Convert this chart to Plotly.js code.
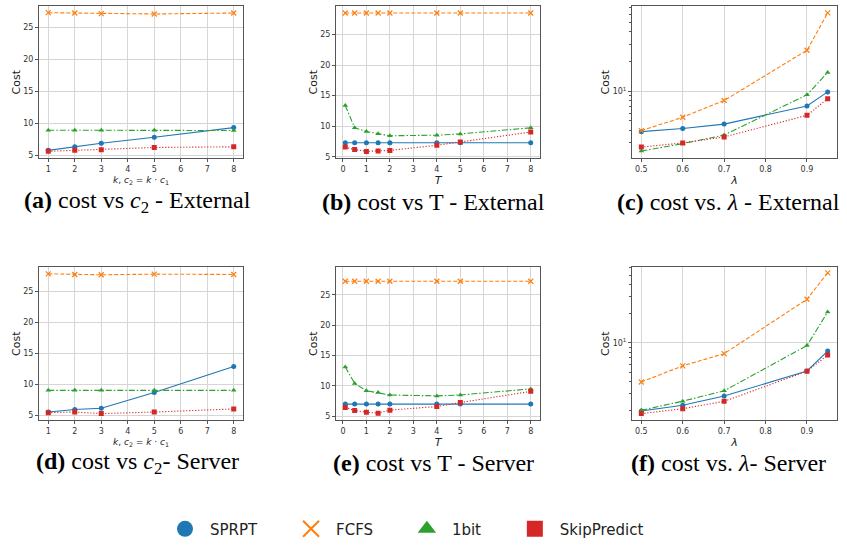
<!DOCTYPE html>
<html>
<head>
<meta charset="utf-8">
<script src="https://cdn.plot.ly/plotly-3.0.1.min.js"></script>
<style>html,body{margin:0;padding:0;background:#fff;}#chart{width:847px;height:546px;}</style>
</head>
<body>
<div id="chart"></div>
<script>
// ---- data ----
const seriesNames = ["SPRPT", "FCFS", "1bit", "SkipPredict"];

const xK = [1, 2, 3, 5, 8];
const xT = [0.1, 0.5, 1, 1.5, 2, 4, 5, 8];
const xLambda = [0.5, 0.6, 0.7, 0.9, 0.95];

// (a) cost vs c2 - External
const aSPRPT = [5.75, 6.3, 6.85, 7.8, 9.3];
const aFCFS = [27.25, 27.2, 27.1, 27.05, 27.2];
const a1bit = [8.9, 8.9, 8.9, 8.9, 8.85];
const aSkip = [5.6, 5.75, 5.85, 6.2, 6.3];

// (b) cost vs T - External
const bSPRPT = [7.3, 7.3, 7.3, 7.3, 7.3, 7.3, 7.3, 7.3];
const bFCFS = [28.5, 28.5, 28.5, 28.5, 28.5, 28.5, 28.5, 28.5];
const b1bit = [13.4, 9.75, 9.15, 8.8, 8.45, 8.55, 8.75, 9.75];
const bSkip = [6.6, 6.2, 5.9, 5.95, 6.05, 6.9, 7.45, 9.05];

// (c) cost vs lambda - External (log)
const cSPRPT = [3.9, 4.2, 4.65, 7.1, 9.85];
const cFCFS = [4.0, 5.45, 8.05, 26.0, 62.0];
const c1bit = [2.48, 2.95, 3.6, 9.2, 15.5];
const cSkip = [2.72, 3.0, 3.45, 5.7, 8.4];

// (d) cost vs c2 - Server
const dSPRPT = [5.55, 5.95, 6.15, 8.7, 12.9];
const dFCFS = [27.85, 27.75, 27.7, 27.8, 27.75];
const d1bit = [9.05, 9.05, 9.05, 9.05, 9.05];
const dSkip = [5.45, 5.55, 5.3, 5.55, 6.05];

// (e) cost vs T - Server
const eSPRPT = [7.0, 7.0, 7.0, 7.0, 7.0, 7.0, 7.0, 7.0];
const eFCFS = [27.25, 27.25, 27.25, 27.25, 27.25, 27.25, 27.25, 27.25];
const e1bit = [13.1, 10.4, 9.2, 8.9, 8.5, 8.35, 8.5, 9.5];
const eSkip = [6.45, 5.95, 5.65, 5.5, 6.0, 6.6, 7.25, 9.1];

// (f) cost vs lambda - Server (log)
const fSPRPT = [1.98, 2.27, 2.83, 5.13, 8.25];
const fFCFS = [3.95, 5.8, 7.75, 28.3, 53.0];
const f1bit = [2.01, 2.5, 3.2, 9.4, 20.9];
const fSkip = [1.86, 2.09, 2.49, 5.1, 7.5];

const captions = [
  "<b>(a)</b> cost vs <i>c</i><sub>2</sub> - External",
  "<b>(b)</b> cost vs T - External",
  "<b>(c)</b> cost vs. <i>λ</i> - External",
  "<b>(d)</b> cost vs <i>c</i><sub>2</sub>- Server",
  "<b>(e)</b> cost vs T - Server",
  "<b>(f)</b> cost vs. <i>λ</i>- Server"
];
const logMajorTicks = [10];
const logMajorText = ["10<sup>1</sup>"];
const logMinorTicks = [2, 3, 4, 5, 6, 7, 8, 9, 20, 30, 40, 50, 60, 70, 80, 90];

// ---- styles ----
const colors = ["#1f77b4", "#ff7f0e", "#2ca02c", "#d62728"];
const dashes = ["solid", "4px,2px", "6px,2px,1.5px,2px", "1.2px,1.8px"];
const symbols = ["circle", "x-thin-open", "triangle-up", "square"];
const msizes = [5, 5, 5, 5];
const legendPad = [5, 5, 5, 0]; // non-breaking spaces after each legend label

const panels = [
  {x: xK, ys: [aSPRPT, aFCFS, a1bit, aSkip]},
  {x: xT, ys: [bSPRPT, bFCFS, b1bit, bSkip]},
  {x: xLambda, ys: [cSPRPT, cFCFS, c1bit, cSkip]},
  {x: xK, ys: [dSPRPT, dFCFS, d1bit, dSkip]},
  {x: xT, ys: [eSPRPT, eFCFS, e1bit, eSkip]},
  {x: xLambda, ys: [fSPRPT, fFCFS, f1bit, fSkip]}
];

const W = 847, H = 546;
const colPx = [[39, 243], [336, 540], [632, 837]];
const rowPx = [[6, 159], [268, 422]];
const capX = [137, 433, 728];
const capY = [203, 465];

const traces = [];
panels.forEach((p, i) => {
  const ax = i === 0 ? "" : String(i + 1);
  p.ys.forEach((y, s) => {
    traces.push({
      x: p.x, y: y, xaxis: "x" + ax, yaxis: "y" + ax,
      type: "scatter", mode: "lines+markers", showlegend: false,
      name: seriesNames[s],
      line: {color: colors[s], width: 1.1, dash: dashes[s]},
      marker: {color: colors[s], symbol: symbols[s], size: msizes[s],
               line: {color: colors[s], width: s === 1 ? 1.2 : 0}}
    });
  });
});
// legend-only entries
seriesNames.forEach((n, s) => {
  traces.push({
    x: [null], y: [null], xaxis: "x", yaxis: "y", type: "scatter", mode: "markers",
    name: n + "\u00a0".repeat(legendPad[s]), showlegend: true,
    marker: {color: colors[s], symbol: symbols[s], size: 16,
             line: {color: colors[s], width: s === 1 ? 2 : 0}}
  });
});

const tickFont = {family: "DejaVu Sans", size: 8, color: "#333"};
const layout = {
  width: W, height: H,
  margin: {l: 0, r: 0, t: 0, b: 0},
  paper_bgcolor: "#fff", plot_bgcolor: "#fff",
  showlegend: true,
  legend: {orientation: "h", x: 160 / W, xanchor: "left", y: 1 - 531 / H, yanchor: "middle",
           font: {family: "DejaVu Sans", size: 15, color: "#222"}, itemwidth: 40,
           traceorder: "normal"},
  annotations: []
};

const xRanges = [[0.65, 8.35], [-0.295, 8.395], [0.4775, 0.9725], [0.65, 8.35], [-0.295, 8.395], [0.4775, 0.9725]];
const yRanges = [[4.49, 28.3], [4.75, 29.65], [Math.log10(2.09), Math.log10(72.9)],
                 [4.19, 28.95], [4.3, 29.6], [Math.log10(1.58), Math.log10(61)]];
const xTitles = ["<i>k</i>, <i>c</i><sub>2</sub> = <i>k</i> · <i>c</i><sub>1</sub>", "<i>T</i>", "<i>λ</i>"];
const xTitleSize = [9, 11, 11];

panels.forEach((p, i) => {
  const ax = i === 0 ? "" : String(i + 1);
  const col = i % 3, row = Math.floor(i / 3);
  const isLog = col === 2;
  const xd = [colPx[col][0] / W, colPx[col][1] / W];
  const yd = [1 - rowPx[row][1] / H, 1 - rowPx[row][0] / H];
  const common = {showline: true, mirror: true, linecolor: "#555", linewidth: 1,
                  showgrid: true, gridcolor: "#d6d6d6", gridwidth: 1, zeroline: false,
                  ticks: "outside", ticklen: 3, tickcolor: "#555", tickfont: tickFont};
  layout["xaxis" + ax] = Object.assign({}, common, {
    domain: xd, anchor: "y" + ax, range: xRanges[i],
    tickmode: "linear", tick0: isLog ? 0.5 : 0, dtick: isLog ? 0.1 : 1,
    tickformat: isLog ? ".1f" : "d",
    title: {text: xTitles[col], font: {family: "DejaVu Sans", size: xTitleSize[col], color: "#222"}, standoff: 3}
  });
  const ya = Object.assign({}, common, {
    domain: yd, anchor: "x" + ax, range: yRanges[i],
    title: {text: "Cost", font: {family: "DejaVu Sans", size: 11, color: "#222"}, standoff: 0}
  });
  if (isLog) {
    Object.assign(ya, {type: "log", tickmode: "array", tickvals: logMajorTicks, ticktext: logMajorText,
      minor: {tickmode: "array", tickvals: logMinorTicks, ticks: "outside", ticklen: 2, tickcolor: "#555", showgrid: false}});
  } else {
    Object.assign(ya, {tickmode: "linear", tick0: 0, dtick: 5});
  }
  layout["yaxis" + ax] = ya;
  layout.annotations.push({
    xref: "paper", yref: "paper", x: capX[col] / W, y: 1 - capY[row] / H,
    xanchor: "center", yanchor: "middle", showarrow: false, text: captions[i],
    font: {family: "Liberation Serif", size: 24, color: "#000"}
  });
});

Plotly.newPlot("chart", traces, layout, {staticPlot: true, displayModeBar: false});
</script>
</body>
</html>
